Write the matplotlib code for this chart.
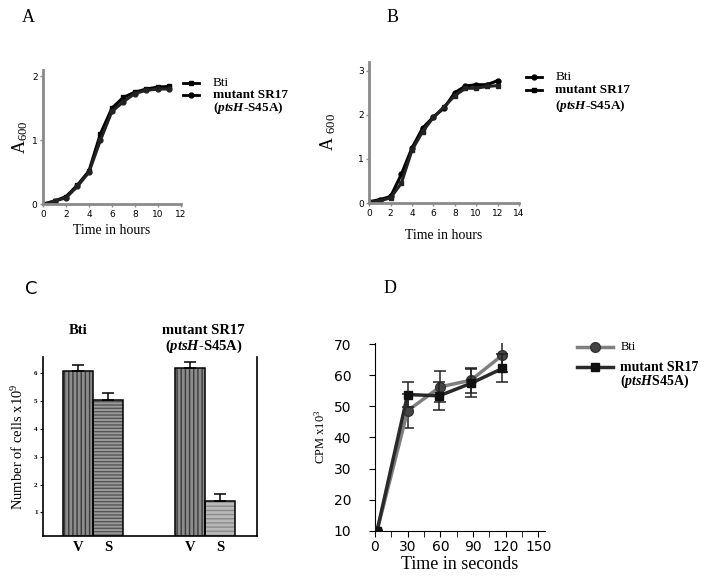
import numpy as np
import matplotlib
matplotlib.use('Agg')
import matplotlib.pyplot as plt

# Panel A - growth curves
a_hours = [0, 1, 2, 3, 4, 5, 6, 7, 8, 9, 10, 11]
a_bti = [0.0, 0.05, 0.12, 0.3, 0.52, 1.1, 1.5, 1.67, 1.75, 1.8, 1.83, 1.84]
a_mut = [0.0, 0.05, 0.1, 0.28, 0.5, 1.0, 1.45, 1.6, 1.73, 1.78, 1.8, 1.8]

# Panel B - growth curves
b_hours = [0, 1, 2, 3, 4, 5, 6, 7, 8, 9, 10, 11, 12]
b_bti = [0.03, 0.08, 0.15, 0.65, 1.25, 1.7, 1.95, 2.15, 2.5, 2.65, 2.68, 2.68, 2.77]
b_mut = [0.03, 0.05, 0.12, 0.45, 1.2, 1.62, 1.94, 2.18, 2.43, 2.6, 2.6, 2.64, 2.66]

# Panel C - cell counts
c_labels = ['V', 'S', 'V', 'S']
c_values = [6.08, 5.04, 6.18, 1.42]
c_errors = [0.22, 0.24, 0.23, 0.23]

# Panel D - uptake
d_time_bti = [2, 30, 60, 88, 117]
d_bti = [10, 48.6, 56.3, 58.4, 66.5]
d_bti_err = [0, 5.5, 5.0, 4.0, 5.3]
d_time_mut = [2, 30, 59, 88, 117]
d_mut = [10, 53.8, 53.4, 57.4, 62.2]
d_mut_err = [0, 4.0, 4.5, 4.5, 4.5]

SERIF = ['Liberation Serif', 'DejaVu Serif']
SANS = ['DejaVu Sans']

plt.rcParams['mathtext.fontset'] = 'custom'
plt.rcParams['mathtext.rm'] = 'Liberation Serif'
plt.rcParams['mathtext.it'] = 'Liberation Serif:italic:bold'
plt.rcParams['mathtext.bf'] = 'Liberation Serif:bold'

fig = plt.figure(figsize=(7.06, 5.77), dpi=100)
fig.patch.set_facecolor('white')


def growth_style(ax):
    for side in ['top', 'right']:
        ax.spines[side].set_visible(False)
    for side in ['left', 'bottom']:
        ax.spines[side].set_color('#8a8a8a')
        ax.spines[side].set_linewidth(2)
    ax.tick_params(length=2, width=1, color='#8a8a8a', labelsize=6.5, pad=2)
    for lab in ax.get_xticklabels() + ax.get_yticklabels():
        lab.set_family(SANS)


def legend_entry(ax, x0, x1, y, marker, ms, **kw):
    # hand-made legend line with marker in the middle
    ax.plot([x0, x1], [y, y], clip_on=False, **{k: v for k, v in kw.items() if k in ('color', 'lw')})
    ax.plot([(x0 + x1) / 2], [y], ls='none', marker=marker, ms=ms, clip_on=False,
            mfc=kw.get('mfc', 'black'), mec=kw.get('mec', 'black'))


# ---- A ----
axA = fig.add_axes([0.061, 0.646, 0.195, 0.233])
axA.plot(a_hours, a_bti, color='black', lw=2.2, marker='s', ms=3.5)
axA.plot(a_hours, a_mut, color='#222222', lw=2.2, marker='o', ms=3.5)
axA.set_xlim(0, 12)
axA.set_ylim(0, 2.1)
axA.set_xticks(range(0, 13, 2))
axA.set_yticks([0, 1, 2])
growth_style(axA)
axA.set_xlabel('Time in hours', family=SERIF, fontsize=10, labelpad=4)
axA.set_ylabel('A$_{600}$', family=SERIF, fontsize=13, labelpad=1)
fig.text(0.031, 0.97, 'A', family=SERIF, fontsize=13, va='center')
legend_entry(axA, 12.2, 13.6, 1.9, 's', 3.5, color='black', lw=2)
legend_entry(axA, 12.2, 13.6, 1.7, 'o', 3.5, color='black', lw=2)
axA.text(14.8, 1.9, 'Bti', family=SERIF, fontsize=9.5, va='center')
axA.text(14.8, 1.7, 'mutant SR17', family=SERIF, fontsize=9.5, fontweight='bold', va='center')
axA.text(14.8, 1.5, '($\\it{ptsH}$-S45A)', family=SERIF, fontsize=9.5, fontweight='bold', va='center')

# ---- B ----
axB = fig.add_axes([0.523, 0.648, 0.212, 0.245])
axB.plot(b_hours, b_bti, color='black', lw=2.2, marker='o', ms=3.5)
axB.plot(b_hours, b_mut, color='#222222', lw=2.2, marker='s', ms=3.5)
axB.set_xlim(0, 14)
axB.set_ylim(0, 3.2)
axB.set_xticks(range(0, 15, 2))
axB.set_yticks([0, 1, 2, 3])
growth_style(axB)
axB.set_xlabel('Time in hours', family=SERIF, fontsize=10, labelpad=8)
axB.set_ylabel('A $_{600}$', family=SERIF, fontsize=13, labelpad=14)
fig.text(0.547, 0.97, 'B', family=SERIF, fontsize=13, va='center')
legend_entry(axB, 14.7, 16.2, 2.85, 'o', 3.5, color='black', lw=2)
legend_entry(axB, 14.7, 16.2, 2.56, 's', 3.5, color='black', lw=2)
axB.text(17.4, 2.85, 'Bti', family=SERIF, fontsize=9.5, va='center')
axB.text(17.4, 2.56, 'mutant SR17', family=SERIF, fontsize=9.5, fontweight='bold', va='center')
axB.text(17.4, 2.2, '($\\it{ptsH}$-S45A)', family=SERIF, fontsize=9.5, fontweight='bold', va='center')

# ---- C ----
axC = fig.add_axes([0.061, 0.0716, 0.303, 0.310])
pos = [0, 1, 3.7, 4.7]
faces = ['#8c8c8c', '#9a9a9a', '#8c8c8c', '#b8b8b8']
hatch_cols = ['#3a3a3a', '#555555', '#3a3a3a', '#8a8a8a']
hatches = ['||||', '-----', '||||', '----']
for p, v, fc, hc, h in zip(pos, c_values, faces, hatch_cols, hatches):
    axC.bar(p, v, width=1.0, color=fc, edgecolor=hc, hatch=h, lw=0, zorder=2)
axC.bar(pos, c_values, width=1.0, fill=False, edgecolor='black', lw=1.1, zorder=3)
axC.errorbar(pos, c_values, yerr=[[0] * 4, c_errors], fmt='none', ecolor='black',
             elinewidth=1.1, capsize=4, capthick=1.1, zorder=4)
axC.set_xlim(-1.15, 5.91)
axC.set_ylim(0.16, 6.6)
axC.spines['top'].set_visible(False)
for side in ['left', 'bottom', 'right']:
    axC.spines[side].set_linewidth(1.2)
axC.set_yticks([1, 2, 3, 4, 5, 6])
axC.set_yticklabels(['1', '2', '3', '4', '5', '6'], family=SERIF, fontsize=5, fontweight='bold')
axC.tick_params(axis='y', length=2, pad=2)
axC.set_xticks(pos)
axC.set_xticklabels(c_labels, family=SERIF, fontsize=10.5, fontweight='bold')
axC.tick_params(axis='x', length=0, pad=4)
axC.set_ylabel('Number of cells x10$^{9}$', family=SERIF, fontsize=10.5, labelpad=6)
axC.text(0, 7.56, 'Bti', family=SERIF, fontsize=10.5, fontweight='bold', ha='center', va='center')
axC.text(4.15, 7.56, 'mutant SR17', family=SERIF, fontsize=10.5, fontweight='bold', ha='center', va='center')
axC.text(4.15, 6.98, '($\\it{ptsH}$-S45A)', family=SERIF, fontsize=10.5, fontweight='bold', ha='center', va='center')
fig.text(0.035, 0.5, 'C', family=SANS, fontsize=13, va='center')

# ---- D ----
axD = fig.add_axes([0.531, 0.0802, 0.241, 0.326])
axD.errorbar(d_time_bti, d_bti, yerr=d_bti_err, color='#7f7f7f', lw=2.5, marker='o', ms=7,
             mfc='#444444', mec='#333333', ecolor='#222222', elinewidth=1.1, capsize=4,
             capthick=1.1, zorder=3)
axD.errorbar(d_time_mut, d_mut, yerr=d_mut_err, color='#2a2a2a', lw=2.5, marker='s', ms=6,
             mfc='#111111', mec='#111111', ecolor='#222222', elinewidth=1.1, capsize=4,
             capthick=1.1, zorder=4)
axD.set_xlim(0, 156)
axD.set_ylim(10, 70.5)
axD.spines['top'].set_visible(False)
axD.spines['right'].set_visible(False)
axD.set_xticks(range(0, 151, 30))
axD.set_xticks(range(15, 151, 30), minor=True)
axD.set_yticks(range(10, 71, 10))
axD.tick_params(axis='both', which='major', length=4, labelsize=10, pad=3)
axD.tick_params(axis='x', which='minor', length=4)
axD.tick_params(axis='y', labelsize=10, pad=13)
axD.set_xlabel('Time in seconds', family=SERIF, fontsize=13, labelpad=1)
axD.set_ylabel('CPM x10$^{3}$', family=SERIF, fontsize=9, labelpad=4)
fig.text(0.543, 0.5, 'D', family=SERIF, fontsize=13, va='center')
legend_entry(axD, 185, 218, 69.1, 'o', 7, color='#7f7f7f', lw=2.5, mfc='#444444', mec='#333333')
legend_entry(axD, 185, 218, 62.6, 's', 6, color='#2a2a2a', lw=2.5, mfc='#111111', mec='#111111')
axD.text(225, 69.1, 'Bti', family=SERIF, fontsize=9, va='center')
axD.text(225, 62.6, 'mutant SR17', family=SERIF, fontsize=10, fontweight='bold', va='center')
axD.text(225, 58.2, '($\\it{ptsH}$S45A)', family=SERIF, fontsize=10, fontweight='bold', va='center')

fig.savefig('out.png', dpi=100, facecolor='white')
